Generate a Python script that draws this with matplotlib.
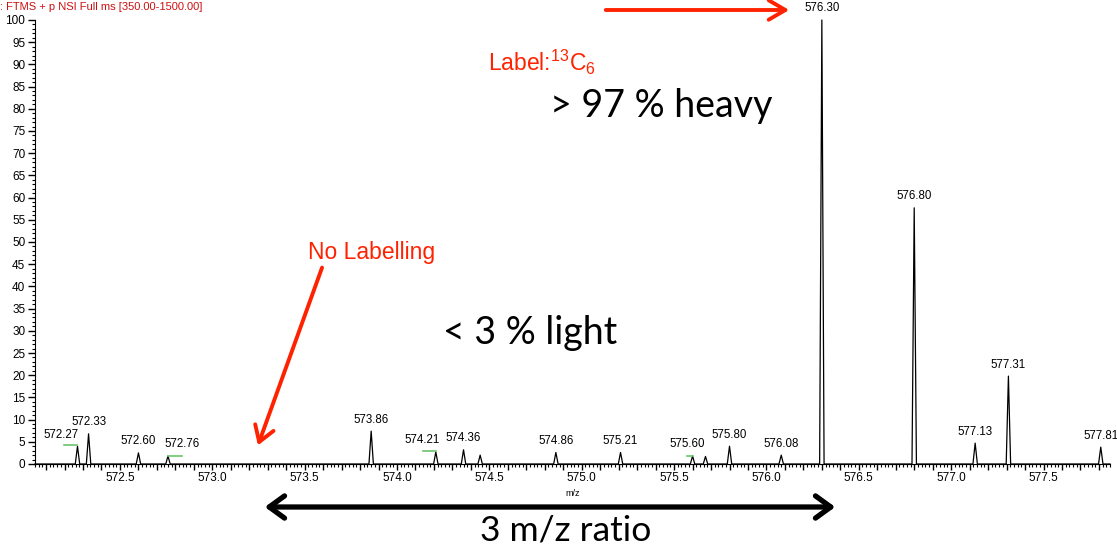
import numpy as np
import matplotlib
matplotlib.use("Agg")
import matplotlib.pyplot as plt
from matplotlib.ticker import MultipleLocator, FuncFormatter

plt.rcParams['font.family'] = ['Liberation Sans', 'DejaVu Sans']
plt.rcParams['mathtext.fontset'] = 'custom'
plt.rcParams['mathtext.rm'] = 'Liberation Sans'

# peak centroids (m/z) and relative abundance (%)
peak_mz = [572.27, 572.33, 572.60, 572.76, 573.86, 574.21, 574.36, 574.45,
           574.86, 575.21, 575.60, 575.67, 575.80, 576.08, 576.30, 576.80,
           577.13, 577.31, 577.81]
peak_int = [4.0, 6.8, 2.5, 1.8, 7.4, 2.7, 3.2, 2.0,
            2.6, 2.6, 1.8, 1.7, 4.0, 2.0, 100.0, 57.7,
            4.7, 19.8, 3.8]
peak_labels = ['572.27', '572.33', '572.60', '572.76', '573.86', '574.21', '574.36', '',
               '574.86', '575.21', '575.60', '', '575.80', '576.08', '576.30', '576.80',
               '577.13', '577.31', '577.81']

# green marker segments next to some peaks: (m/z, height, length in m/z)
green_mz = [572.27, 572.76, 574.21, 575.60]
green_y = [4.3, 1.9, 3.0, 1.9]
green_len = [-0.075, 0.075, -0.072, -0.03]

W, H = 1117, 550
fig = plt.figure(figsize=(W / 100, H / 100), dpi=100)
ax = fig.add_axes([35 / W, 1 - 464 / H, (1110 - 35) / W, (464 - 20) / H])

# build the profile line: a narrow triangle for every centroid
hw = 0.012
xs, ys = [572.04], [0]
for mz, it in zip(peak_mz, peak_int):
    xs += [mz - hw, mz, mz + hw]
    ys += [0, it, 0]
xs.append(577.86)
ys.append(0)
ax.plot(xs, ys, color='black', lw=0.9, clip_on=False)

for mz, y, ln in zip(green_mz, green_y, green_len):
    ax.plot([mz, mz + ln], [y, y], color='#6cc46c', lw=1.2)

# label shifts (points) where the instrument moved labels sideways
shift = {'572.27': -12, '572.76': 10, '574.21': -10, '575.60': -3.5}
for mz, it, lab in zip(peak_mz, peak_int, peak_labels):
    if lab:
        ax.annotate(lab, (mz, it), xytext=(shift.get(lab, 0), 4), textcoords='offset points',
                    ha='center', va='bottom', fontsize=8.3, annotation_clip=False)

ax.set_xlim(572.04, 577.86)
ax.set_ylim(0, 100)
for s in ['top', 'right']:
    ax.spines[s].set_visible(False)
ax.yaxis.set_major_locator(MultipleLocator(5))
ax.yaxis.set_minor_locator(MultipleLocator(1))
ax.xaxis.set_major_locator(MultipleLocator(0.1))
ax.xaxis.set_minor_locator(MultipleLocator(0.02))
ax.xaxis.set_major_formatter(FuncFormatter(
    lambda v, p: f'{v:.1f}' if abs(v * 2 - round(v * 2)) < 1e-6 else ''))
ax.tick_params(axis='both', which='major', labelsize=8.5, length=5, width=1, direction='out', pad=2)
ax.tick_params(axis='both', which='minor', length=2.5, width=0.8, direction='out')
ax.tick_params(axis='x', which='major', length=4)
ax.set_xlabel('m/z', fontsize=6.5, labelpad=3)

fx = lambda px: px / W
fy = lambda py: 1 - py / H

fig.text(fx(0), fy(2), ': FTMS + p NSI Full ms [350.00-1500.00]', color='#cc1010',
         fontsize=8, va='top', ha='left')

red = '#ff2200'
big = ['Lato', 'DejaVu Sans']
fig.text(fx(488), fy(62), 'Label:$^{13}$C$_{6}$', color=red, fontsize=16.5, va='center')
fig.text(fx(550), fy(106), '> 97 % heavy', fontsize=27, family=big, va='center')
fig.text(fx(308), fy(253), 'No Labelling', color=red, fontsize=16.5, va='center')
fig.text(fx(443), fy(333), '< 3 % light', fontsize=27, family=big, va='center')
fig.text(fx(566), fy(531), '3 m/z ratio', fontsize=25.5, family=big,
         va='center', ha='center')

fig.add_artist(matplotlib.patches.FancyArrowPatch(
    (fx(603), fy(10)), (fx(792), fy(10)), transform=fig.transFigure,
    arrowstyle='->,head_length=12,head_width=7', color=red, lw=2.8, mutation_scale=1))
fig.add_artist(matplotlib.patches.FancyArrowPatch(
    (fx(323), fy(265)), (fx(257), fy(448)), transform=fig.transFigure,
    arrowstyle='->,head_length=11,head_width=7', color=red, lw=2.8, mutation_scale=1))
fig.add_artist(matplotlib.patches.FancyArrowPatch(
    (fx(262), fy(507)), (fx(838), fy(507)), transform=fig.transFigure,
    arrowstyle='<->,head_length=11,head_width=8', color='black', lw=3.8, mutation_scale=1))

fig.savefig('out.png', dpi=100)
